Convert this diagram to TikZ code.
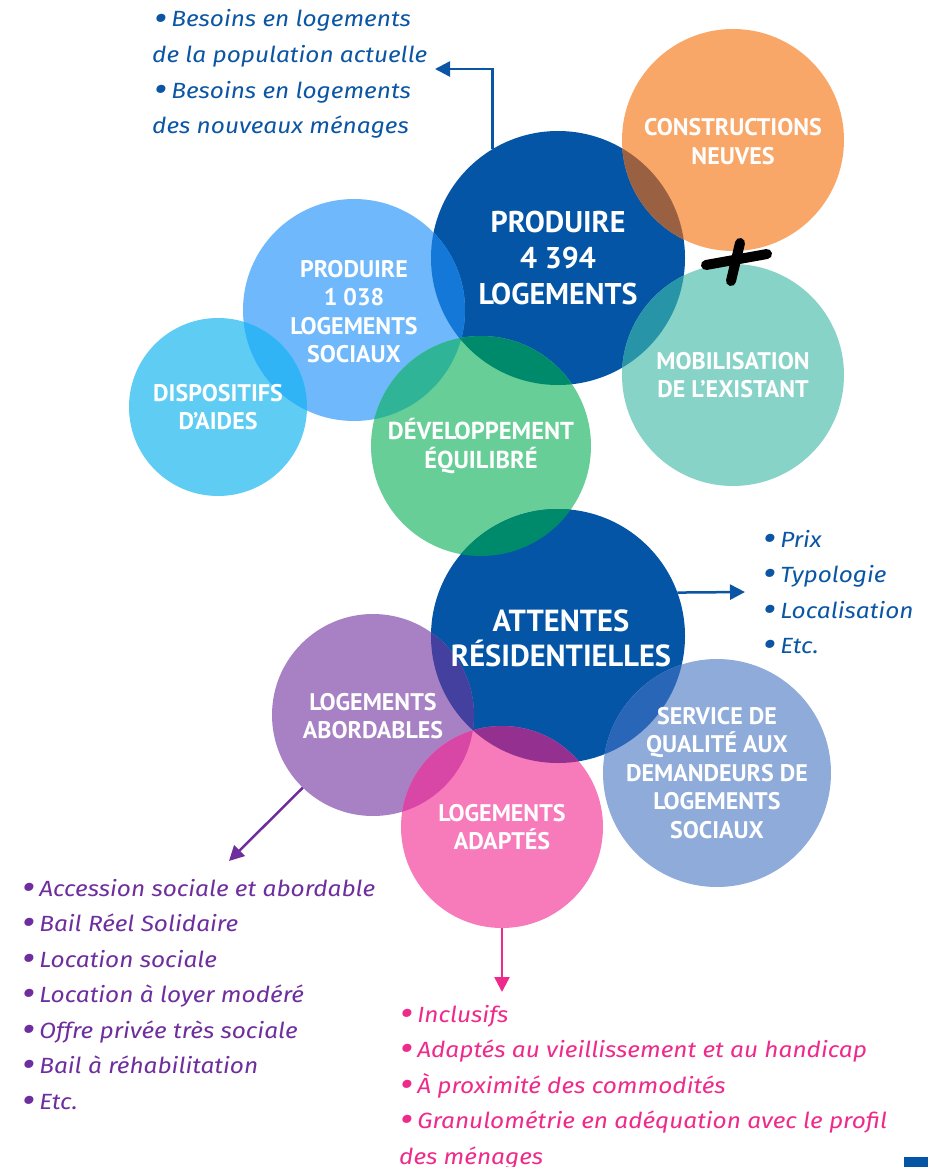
\documentclass[tikz,border=0pt]{standalone}
\usepackage{fontspec}
\usetikzlibrary{arrows.meta}
\newfontfamily\circfont{PT Sans}
\newfontfamily\listfont[FakeStretch=1.11]{Fira Sans}
\newcommand\bul{\raisebox{-1.2pt}{\scalebox{1.35}{\bfseries •}}\hspace{5pt}}
\definecolor{cDark}{HTML}{0455A5}
\definecolor{cOrange}{HTML}{F9A769}
\definecolor{cTeal}{HTML}{88D3C8}
\definecolor{cLight}{HTML}{70B8FC}
\definecolor{cSky}{HTML}{5FCCF4}
\definecolor{cGreen}{HTML}{66CE96}
\definecolor{cPurple}{HTML}{A781C4}
\definecolor{cPink}{HTML}{F77BBB}
\definecolor{cPeri}{HTML}{8EABDA}
\definecolor{oDO}{HTML}{9A6042}
\definecolor{oDT}{HTML}{2894A8}
\definecolor{oDL}{HTML}{1478D8}
\definecolor{oDG}{HTML}{008A6C}
\definecolor{oLS}{HTML}{30B4F6}
\definecolor{oLG}{HTML}{30B498}
\definecolor{oDPu}{HTML}{44409F}
\definecolor{oDPi}{HTML}{943090}
\definecolor{oDPe}{HTML}{2A66B8}
\definecolor{oPP}{HTML}{D846A6}
\definecolor{tBlue}{HTML}{0B56A4}
\definecolor{tPurple}{HTML}{6E2E9E}
\definecolor{tPink}{HTML}{EE2A8A}
\tikzset{
  bubble/.style={circle, inner sep=0pt, outer sep=0pt, draw=none},
  btext/.style={text=white, align=center, font=\circfont\bfseries\fontsize{24}{28.5}\selectfont},
  bigtext/.style={text=white, align=center, font=\circfont\bfseries\fontsize{30}{36}\selectfont},
  listline/.style={anchor=base west, inner sep=0pt, font=\listfont\itshape\fontsize{22}{26}\selectfont},
  conn/.style={line width=2.5pt, -{Triangle[length=15pt,width=15pt]}},
}
\begin{document}
\begin{tikzpicture}[x=1pt,y=-1pt]
\useasboundingbox (0,0) rectangle (928,1167);
% base circles
\node[bubble, fill=cDark, minimum size=254pt] (prod) at (558,258) {};
\node[bubble, fill=cOrange, minimum size=222pt] (cons) at (733,140) {};
\node[bubble, fill=cTeal, minimum size=222pt] (mob) at (733,375) {};
\node[bubble, fill=cLight, minimum size=222pt] (soc) at (354,310) {};
\node[bubble, fill=cSky, minimum size=178pt] (disp) at (218,407) {};
\node[bubble, fill=cGreen, minimum size=220pt] (dev) at (481,446) {};
\node[bubble, fill=cDark, minimum size=254pt] (att) at (558,636) {};
\node[bubble, fill=cPurple, minimum size=202pt] (abord) at (373,715) {};
\node[bubble, fill=cPink, minimum size=202pt] (adapt) at (502,827) {};
\node[bubble, fill=cPeri, minimum size=228pt] (serv) at (717,773) {};
% overlaps
\begin{scope}\clip (prod.center) circle (127pt); \fill[oDO] (cons.center) circle (111pt);\end{scope}
\begin{scope}\clip (prod.center) circle (127pt); \fill[oDT] (mob.center) circle (111pt);\end{scope}
\begin{scope}\clip (prod.center) circle (127pt); \fill[oDL] (soc.center) circle (111pt);\end{scope}
\begin{scope}\clip (prod.center) circle (127pt); \fill[oDG] (dev.center) circle (110pt);\end{scope}
\begin{scope}\clip (soc.center) circle (111pt); \fill[oLS] (disp.center) circle (89pt);\end{scope}
\begin{scope}\clip (soc.center) circle (111pt); \fill[oLG] (dev.center) circle (110pt);\end{scope}
\begin{scope}\clip (soc.center) circle (111pt); \clip (dev.center) circle (110pt); \fill[oDG] (prod.center) circle (127pt);\end{scope}
\begin{scope}\clip (att.center) circle (127pt); \fill[oDG] (dev.center) circle (110pt);\end{scope}
\begin{scope}\clip (att.center) circle (127pt); \fill[oDPu] (abord.center) circle (101pt);\end{scope}
\begin{scope}\clip (att.center) circle (127pt); \fill[oDPi] (adapt.center) circle (101pt);\end{scope}
\begin{scope}\clip (att.center) circle (127pt); \fill[oDPe] (serv.center) circle (114pt);\end{scope}
\begin{scope}\clip (abord.center) circle (101pt); \fill[oPP] (adapt.center) circle (101pt);\end{scope}
% plus sign
\draw[line width=10pt, line cap=round] (706,265) -- (767,254);
\draw[line width=10pt, line cap=round] (740,243) -- (731,281);
% circle texts
\node[bigtext] (prodT) at (prod.center) {PRODUIRE\\4 394\\LOGEMENTS};
\node[btext] (consT) at ([yshift=-1.5pt]cons.center) {CONSTRUCTIONS\\NEUVES};
\node[btext] (mobT) at (mob.center) {MOBILISATION\\DE L’EXISTANT};
\node[btext] (socT) at ([yshift=-1.5pt]soc.center) {PRODUIRE\\1 038\\LOGEMENTS\\SOCIAUX};
\node[btext] (dispT) at (disp.center) {DISPOSITIFS\\D’AIDES};
\node[btext, font=\circfont\bfseries\fontsize{24.5}{28.5}\selectfont] (devT) at (dev.center) {DÉVELOPPEMENT\\ÉQUILIBRÉ};
\node[bigtext, font=\circfont\bfseries\fontsize{30.5}{35}\selectfont] (attT) at ([xshift=3pt,yshift=-2pt]att.center) {ATTENTES\\RÉSIDENTIELLES};
\node[btext] (abordT) at ([yshift=-1pt]abord.center) {LOGEMENTS\\ABORDABLES};
\node[btext] (adaptT) at (adapt.center) {LOGEMENTS\\ADAPTÉS};
\node[btext] (servT) at (serv.center) {SERVICE DE\\QUALITÉ AUX\\DEMANDEURS DE\\LOGEMENTS\\SOCIAUX};
% list: besoins
\begin{scope}[every node/.style={listline, text=tBlue}]
\node (b1) at (155,27) {\bul Besoins en logements};
\node (b2) at (152,62.5) {de la population actuelle};
\node (b3) at (155,98) {\bul Besoins en logements};
\node (b4) at (152,133.5) {des nouveaux ménages};
\node (p1) at (764,547) {\bul Prix};
\node (p2) at (764,582.5) {\bul Typologie};
\node (p3) at (764,618) {\bul Localisation};
\node (p4) at (764,653.5) {\bul Etc.};
\end{scope}
\begin{scope}[every node/.style={listline, text=tPurple}]
\node (a1) at (23,896) {\bul Accession sociale et abordable};
\node (a2) at (23,931.5) {\bul Bail Réel Solidaire};
\node (a3) at (23,967) {\bul Location sociale};
\node (a4) at (23,1002.5) {\bul Location à loyer modéré};
\node (a5) at (23,1038) {\bul Offre privée très sociale};
\node (a6) at (23,1073.5) {\bul Bail à réhabilitation};
\node (a7) at (23,1109) {\bul Etc.};
\end{scope}
\begin{scope}[every node/.style={listline, text=tPink}]
\node (i1) at (401,1022) {\bul Inclusifs};
\node (i2) at (401,1057.5) {\bul Adaptés au vieillissement et au handicap};
\node (i3) at (401,1093) {\bul À proximité des commodités};
\node (i4) at (401,1128.5) {\bul Granulométrie en adéquation avec le profil};
\node (i5) at (399,1164) {des ménages};
\end{scope}
% connectors
\coordinate (tipTop) at (435,69);
\coordinate (tipRight) at (745,592);
\coordinate (tipPurple) at (229,861);
\coordinate (tipPink) at (502,992);
\draw[conn, tBlue] (prod.121) |- (tipTop);
\draw[conn, tBlue] (att.20) -- (tipRight);
\draw[conn, tPurple] (abord.226) -- (tipPurple);
\draw[conn, tPink] (adapt.south) -- (tipPink);
% corner mark
\fill[cDark] (904,1157) rectangle (928,1167);
\end{tikzpicture}
\end{document}
